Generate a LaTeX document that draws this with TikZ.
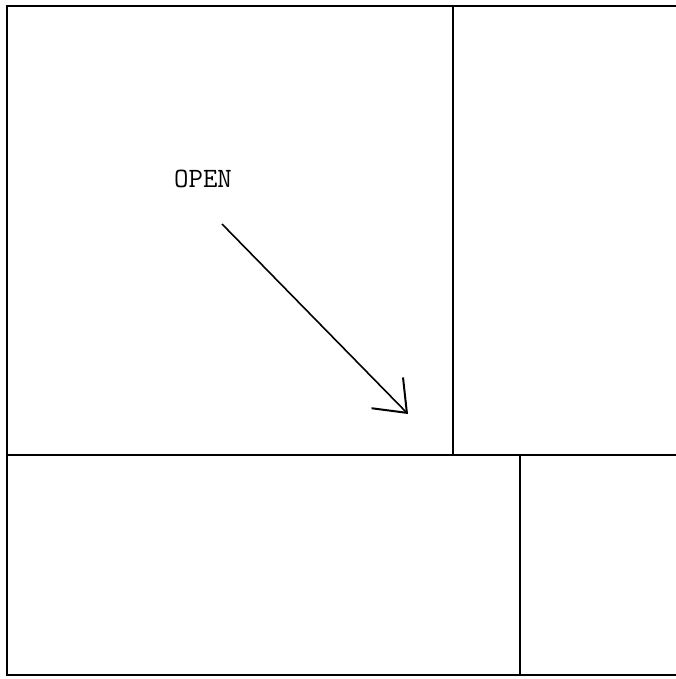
\documentclass[tikz,border=0pt]{standalone}
\usetikzlibrary{arrows.meta}

\begin{document}
\begin{tikzpicture}[x=1pt,y=-1pt, every node/.style={font=\fontsize{28}{30}\selectfont\ttfamily}]
\useasboundingbox (0,0) rectangle (676,679);
\coordinate (tl) at (7,6);
\coordinate (tr) at (676,6);
\coordinate (bl) at (7,675);
\coordinate (br) at (676,675);
\coordinate (mt) at (453,6);
\coordinate (ml) at (7,455);
\coordinate (mr) at (676,455);
\coordinate (mm) at (453,455);
\coordinate (lt) at (520,455);
\coordinate (lb) at (520,675);
\node (open) at (203,179) {OPEN};
\coordinate (tail) at (222,224);
\coordinate (tip) at (408,414);
\draw[line width=2.6pt] (tr)--(tl)--(bl)--(br);
\draw[line width=2.2pt] (mt)--(mm);
\draw[line width=2.2pt] (ml)--(mr);
\draw[line width=2.2pt] (lt)--(lb);
\draw[-{Straight Barb[length=28pt,width=44pt,line width=2pt]},line width=1.6pt] (tail)--(tip);
\end{tikzpicture}
\end{document}
